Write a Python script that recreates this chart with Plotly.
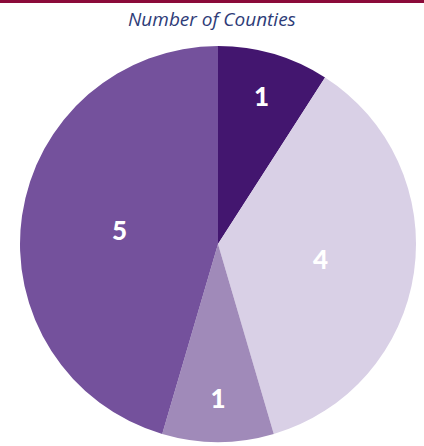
import plotly.graph_objects as go

labels = ["A", "B", "C", "D"]
counts = [1, 4, 1, 5]
colors = ["#43166f", "#d9d0e6", "#a08ab9", "#74519c"]

fig = go.Figure(
    go.Pie(
        labels=labels,
        values=counts,
        sort=False,
        direction="clockwise",
        rotation=0,
        marker=dict(colors=colors, line=dict(width=0)),
        textinfo="value",
        textposition="inside",
        insidetextorientation="horizontal",
        textfont=dict(family="Lato", size=26, color="white", weight=900),
        domain=dict(x=[19 / 424, 417 / 424], y=[4 / 446, 400 / 446]),
        showlegend=False,
        hoverinfo="label+value",
    )
)

fig.add_shape(type="rect", xref="paper", yref="paper", x0=0, x1=1,
              y0=443 / 446, y1=1, fillcolor="#8b0a3a", line=dict(width=0))
fig.add_annotation(text="Number of Counties", xref="paper", yref="paper",
                   x=0.5, y=(446 - 19) / 446, yanchor="middle", showarrow=False,
                   font=dict(family="Open Sans", size=19, color="#2e3c78", style="italic"))

fig.update_layout(width=424, height=446, margin=dict(l=0, r=0, t=0, b=0),
                  paper_bgcolor="white", plot_bgcolor="white")
fig.write_html("out.html", config={"displayModeBar": False},
               post_script="document.body.style.margin='0';")
